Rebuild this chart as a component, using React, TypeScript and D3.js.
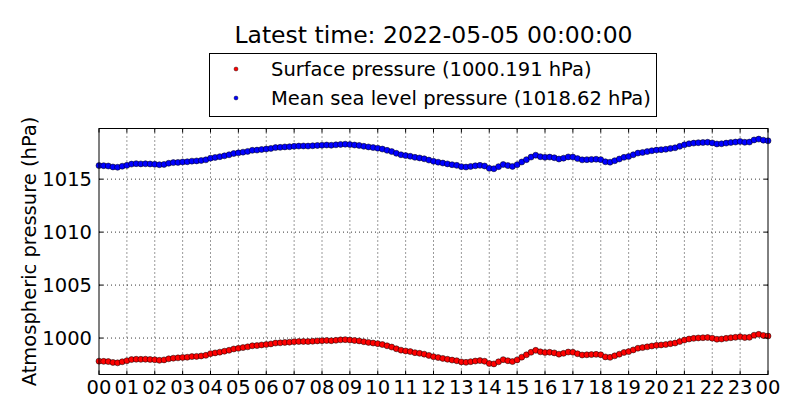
import * as d3 from "d3";

// 10-minute readings, 00:00 to 24:00
const surfacePressure = [
  997.82, 997.8, 997.78, 997.7, 997.66, 997.76,
  997.86, 997.97, 998.0, 997.99, 998.0, 997.98,
  997.95, 997.9, 997.94, 998.04, 998.1, 998.13,
  998.17, 998.19, 998.25, 998.27, 998.31, 998.37,
  998.53, 998.6, 998.67, 998.76, 998.85, 998.97,
  999.03, 999.1, 999.17, 999.27, 999.29, 999.35,
  999.39, 999.45, 999.53, 999.55, 999.59, 999.61,
  999.65, 999.67, 999.68, 999.67, 999.7, 999.73,
  999.75, 999.77, 999.75, 999.79, 999.83, 999.85,
  999.81, 999.77, 999.73, 999.65, 999.59, 999.53,
  999.47, 999.39, 999.27, 999.15, 998.99, 998.86,
  998.78, 998.72, 998.62, 998.56, 998.48, 998.36,
  998.24, 998.16, 998.08, 998.0, 997.92, 997.86,
  997.75, 997.71, 997.77, 997.83, 997.87, 997.81,
  997.6, 997.56, 997.76, 997.96, 997.86, 997.78,
  997.94, 998.2, 998.42, 998.66, 998.84, 998.7,
  998.64, 998.66, 998.6, 998.48, 998.56, 998.68,
  998.66, 998.52, 998.4, 998.42, 998.44, 998.46,
  998.42, 998.22, 998.18, 998.32, 998.48, 998.64,
  998.72, 998.88, 999.04, 999.1, 999.17, 999.25,
  999.31, 999.35, 999.39, 999.47, 999.53, 999.67,
  999.81, 999.91, 999.97, 1000.01, 1000.03, 1000.05,
  999.99, 999.89, 999.91, 999.97, 1000.03, 1000.07,
  1000.12, 1000.05, 1000.07, 1000.27, 1000.35, 1000.25,
  1000.191,
];

const seaLevelPressure = [
  1016.28, 1016.27, 1016.24, 1016.15, 1016.12, 1016.22,
  1016.3, 1016.42, 1016.46, 1016.44, 1016.45, 1016.43,
  1016.4, 1016.36, 1016.39, 1016.5, 1016.56, 1016.58,
  1016.62, 1016.64, 1016.7, 1016.72, 1016.76, 1016.82,
  1016.98, 1017.05, 1017.12, 1017.2, 1017.3, 1017.42,
  1017.48, 1017.55, 1017.62, 1017.72, 1017.74, 1017.8,
  1017.84, 1017.9, 1017.98, 1018.0, 1018.04, 1018.06,
  1018.1, 1018.12, 1018.13, 1018.12, 1018.15, 1018.18,
  1018.2, 1018.22, 1018.2, 1018.24, 1018.28, 1018.3,
  1018.26, 1018.22, 1018.18, 1018.1, 1018.04, 1017.98,
  1017.92, 1017.84, 1017.72, 1017.6, 1017.44, 1017.3,
  1017.22, 1017.16, 1017.06, 1017.0, 1016.92, 1016.8,
  1016.68, 1016.6, 1016.52, 1016.44, 1016.36, 1016.3,
  1016.18, 1016.14, 1016.2, 1016.26, 1016.3, 1016.24,
  1016.02, 1015.98, 1016.18, 1016.38, 1016.28, 1016.2,
  1016.36, 1016.62, 1016.84, 1017.08, 1017.26, 1017.12,
  1017.06, 1017.08, 1017.02, 1016.9, 1016.98, 1017.1,
  1017.08, 1016.94, 1016.82, 1016.84, 1016.86, 1016.88,
  1016.84, 1016.64, 1016.6, 1016.74, 1016.9, 1017.06,
  1017.14, 1017.3, 1017.46, 1017.52, 1017.6, 1017.68,
  1017.74, 1017.78, 1017.82, 1017.9, 1017.96, 1018.1,
  1018.24, 1018.34, 1018.4, 1018.44, 1018.46, 1018.48,
  1018.42, 1018.32, 1018.34, 1018.4, 1018.46, 1018.5,
  1018.55, 1018.48, 1018.5, 1018.7, 1018.78, 1018.68,
  1018.62,
];

const hourTicks = d3.range(0, 25);
const pressureTicks = [1000, 1005, 1010, 1015];
const titleText = "Latest time: 2022-05-05 00:00:00";
const legendLabels = [
  "Surface pressure (1000.191 hPa)",
  "Mean sea level pressure (1018.62 hPa)",
];
const seriesColors = ["#ff0000", "#0000ff"];

const W = 800;
const H = 420;
const margin = { top: 128.5, right: 32, bottom: 45.5, left: 99 };
const font = "'DejaVu Sans', sans-serif";
const labelSize = 19.5;

export default function App() {
  const innerW = W - margin.left - margin.right;
  const innerH = H - margin.top - margin.bottom;

  const all = [...surfacePressure, ...seaLevelPressure];
  const [lo, hi] = d3.extent(all) as [number, number];

  const x = d3.scaleLinear().domain([0, 24]).range([0, innerW]);
  const y = d3.scaleLinear().domain([lo - 1, hi + 1]).range([innerH, 0]);

  const hourOf = (i: number) => i / 6;
  const series = [surfacePressure, seaLevelPressure];

  return (
    <svg
      width={W}
      height={H}
      style={{ position: "absolute", left: 0, top: 0, background: "#fff" }}
      fontFamily={font}
    >
      <text x={margin.left + innerW / 2} y={43} textAnchor="middle" fontSize={23.5}>
        {titleText}
      </text>

      <g transform={`translate(${margin.left},${margin.top})`}>
        {/* grid */}
        {hourTicks.slice(1, -1).map((h) => (
          <line key={"gx" + h} x1={x(h)} x2={x(h)} y1={0} y2={innerH}
            stroke="#000" strokeWidth={0.8} strokeDasharray="1,3" />
        ))}
        {pressureTicks.map((p) => (
          <line key={"gy" + p} x1={0} x2={innerW} y1={y(p)} y2={y(p)}
            stroke="#000" strokeWidth={0.8} strokeDasharray="1,3" />
        ))}

        {/* data */}
        {series.map((vals, si) => (
          <g key={si}>
            {vals.map((v, i) => (
              <circle key={i} cx={x(hourOf(i))} cy={y(v)} r={3}
                fill={seriesColors[si]} stroke="#000" strokeWidth={0.5} />
            ))}
          </g>
        ))}

        {/* ticks inward on all sides */}
        {hourTicks.map((h) => (
          <g key={"tx" + h}>
            <line x1={x(h)} x2={x(h)} y1={innerH} y2={innerH - 4} stroke="#000" />
            <line x1={x(h)} x2={x(h)} y1={0} y2={4} stroke="#000" />
            <text x={x(h)} y={innerH + 19} textAnchor="middle" fontSize={labelSize}>
              {d3.format("02d")(h % 24)}
            </text>
          </g>
        ))}
        {pressureTicks.map((p) => (
          <g key={"ty" + p}>
            <line x1={0} x2={4} y1={y(p)} y2={y(p)} stroke="#000" />
            <line x1={innerW} x2={innerW - 4} y1={y(p)} y2={y(p)} stroke="#000" />
            <text x={-7} y={y(p)} dy="0.35em" textAnchor="end" fontSize={labelSize}>
              {p}
            </text>
          </g>
        ))}

        <rect x={0} y={0} width={innerW} height={innerH} fill="none" stroke="#000" strokeWidth={1} />

        <text transform={`translate(${-63},${innerH / 2}) rotate(-90)`} textAnchor="middle" fontSize={labelSize}>
          Atmospheric pressure (hPa)
        </text>
      </g>

      {/* legend */}
      <g>
        <rect x={209.5} y={53.5} width={447} height={63} fill="#fff" stroke="#000" strokeWidth={1} />
        {legendLabels.map((lab, i) => (
          <g key={lab}>
            <circle cx={236} cy={69 + i * 29} r={2} fill={seriesColors[i]} stroke="#000" strokeWidth={0.4} />
            <text x={271} y={69 + i * 29} dy="0.35em" fontSize={labelSize}>
              {lab}
            </text>
          </g>
        ))}
      </g>
    </svg>
  );
}
